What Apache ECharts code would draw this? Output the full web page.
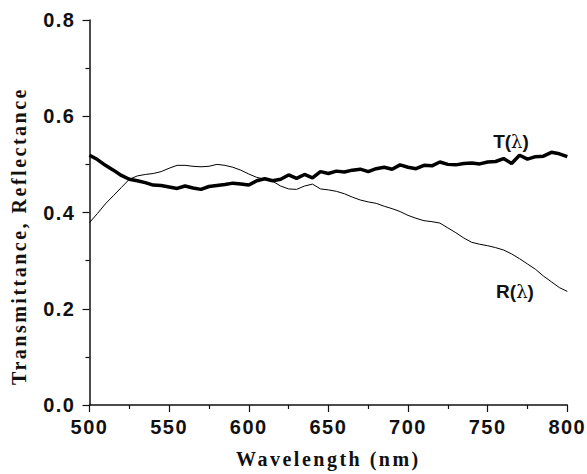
<!DOCTYPE html>
<html>
<head>
<meta charset="utf-8">
<script src="https://cdn.jsdelivr.net/npm/echarts@6/dist/echarts.min.js"></script>
<style>
  html, body { margin: 0; padding: 0; background: #fff; }
  #chart { width: 587px; height: 474px; }
  /* spaced-out lettering of the tick labels and axis titles */
  #chart svg text[style*="Liberation Sans"], #chart svg text[font-family*="Liberation Sans"] { letter-spacing: 1.5px; }
  #chart svg text[style*="Liberation Serif"], #chart svg text[font-family*="Liberation Serif"] { letter-spacing: 2.5px; }
</style>
</head>
<body>
<div id="chart"></div>
<script>
// Wavelength grid (nm)
const wavelength = [500,505,510,515,520,525,530,535,540,545,550,555,560,565,570,575,580,585,590,595,
  600,605,610,615,620,625,630,635,640,645,650,655,660,665,670,675,680,685,690,695,
  700,705,710,715,720,725,730,735,740,745,750,755,760,765,770,775,780,785,790,795,800];

// Transmittance T(λ)
const transmittance = [0.519,0.510,0.498,0.488,0.477,0.469,0.466,0.462,0.457,0.456,0.453,0.450,0.455,0.451,0.448,0.454,0.456,0.458,0.461,0.459,
  0.457,0.466,0.470,0.466,0.469,0.478,0.471,0.479,0.472,0.485,0.481,0.486,0.484,0.488,0.490,0.485,0.491,0.494,0.490,0.499,
  0.494,0.491,0.498,0.497,0.505,0.500,0.499,0.502,0.503,0.501,0.505,0.506,0.512,0.502,0.519,0.511,0.516,0.517,0.525,0.522,0.516];

// Reflectance R(λ)
const reflectance = [0.379,0.398,0.418,0.435,0.452,0.469,0.476,0.479,0.481,0.485,0.492,0.498,0.498,0.496,0.495,0.496,0.500,0.498,0.494,0.488,
  0.480,0.473,0.469,0.465,0.455,0.449,0.448,0.455,0.459,0.449,0.447,0.444,0.439,0.432,0.426,0.422,0.419,0.413,0.408,0.402,
  0.394,0.388,0.383,0.381,0.378,0.368,0.358,0.347,0.338,0.334,0.331,0.327,0.322,0.314,0.304,0.293,0.282,0.268,0.256,0.244,0.236];

const xTitle = 'Wavelength (nm)';
const yTitle = 'Transmittance, Reflectance';

const pairs = (ys) => wavelength.map((w, i) => [w, ys[i]]);

const chart = echarts.init(document.getElementById('chart'), null, { renderer: 'svg' });

const axisLine = { lineStyle: { color: '#111', width: 1.5 } };
const tickFont = { fontFamily: 'Liberation Sans', fontWeight: 'bold', fontSize: 20, color: '#111' };

chart.setOption({
  animation: false,
  backgroundColor: '#fff',
  grid: { left: 89.5, right: 19, top: 20, bottom: 65 },
  xAxis: {
    type: 'value', min: 500, max: 800, interval: 50,
    axisLine: axisLine,
    axisTick: { length: 7, lineStyle: { color: '#111', width: 1.2 } },
    minorTick: { show: true, splitNumber: 2, length: 4, lineStyle: { color: '#111', width: 1.2 } },
    splitLine: { show: false },
    axisLabel: Object.assign({ margin: 12 }, tickFont),
    name: xTitle, nameLocation: 'middle', nameGap: 44,
    nameTextStyle: { fontFamily: 'Liberation Serif', fontWeight: 'bold', fontSize: 20, color: '#111' }
  },
  yAxis: {
    type: 'value', min: 0, max: 0.8, interval: 0.2,
    axisLine: Object.assign({ show: true }, axisLine),
    axisTick: { show: true, length: 7, lineStyle: { color: '#111', width: 1.2 } },
    minorTick: { show: true, splitNumber: 2, length: 4, lineStyle: { color: '#111', width: 1.2 } },
    splitLine: { show: false },
    axisLabel: Object.assign({ margin: 14, formatter: (v) => v.toFixed(1) }, tickFont)
  },
  series: [
    {
      name: 'T', type: 'line', data: pairs(transmittance), showSymbol: false, symbol: 'none',
      lineStyle: { color: '#000', width: 3.5 }, z: 3
    },
    {
      name: 'R', type: 'line', data: pairs(reflectance), showSymbol: false, symbol: 'none',
      lineStyle: { color: '#000', width: 1 }, z: 2
    }
  ],
  graphic: [
    {
      type: 'text', x: 19, y: 236, rotation: Math.PI / 2,
      style: { text: yTitle, font: "bold 20px 'Liberation Serif'", fill: '#111', align: 'center', verticalAlign: 'middle' }
    },
    {
      type: 'text', x: 511, y: 141,
      style: {
        text: '{a|T(}{l|λ}{a|)}', align: 'center', verticalAlign: 'middle',
        rich: {
          a: { fontFamily: 'Arial', fontWeight: 'bold', fontSize: 19, fill: '#111' },
          l: { fontFamily: 'DejaVu Serif', fontWeight: 'normal', fontSize: 18, fill: '#111' }
        }
      }
    },
    {
      type: 'text', x: 515, y: 291,
      style: {
        text: '{a|R(}{l|λ}{a|)}', align: 'center', verticalAlign: 'middle',
        rich: {
          a: { fontFamily: 'Arial', fontWeight: 'bold', fontSize: 19, fill: '#111' },
          l: { fontFamily: 'DejaVu Serif', fontWeight: 'normal', fontSize: 18, fill: '#111' }
        }
      }
    }
  ]
});
</script>
</body>
</html>
